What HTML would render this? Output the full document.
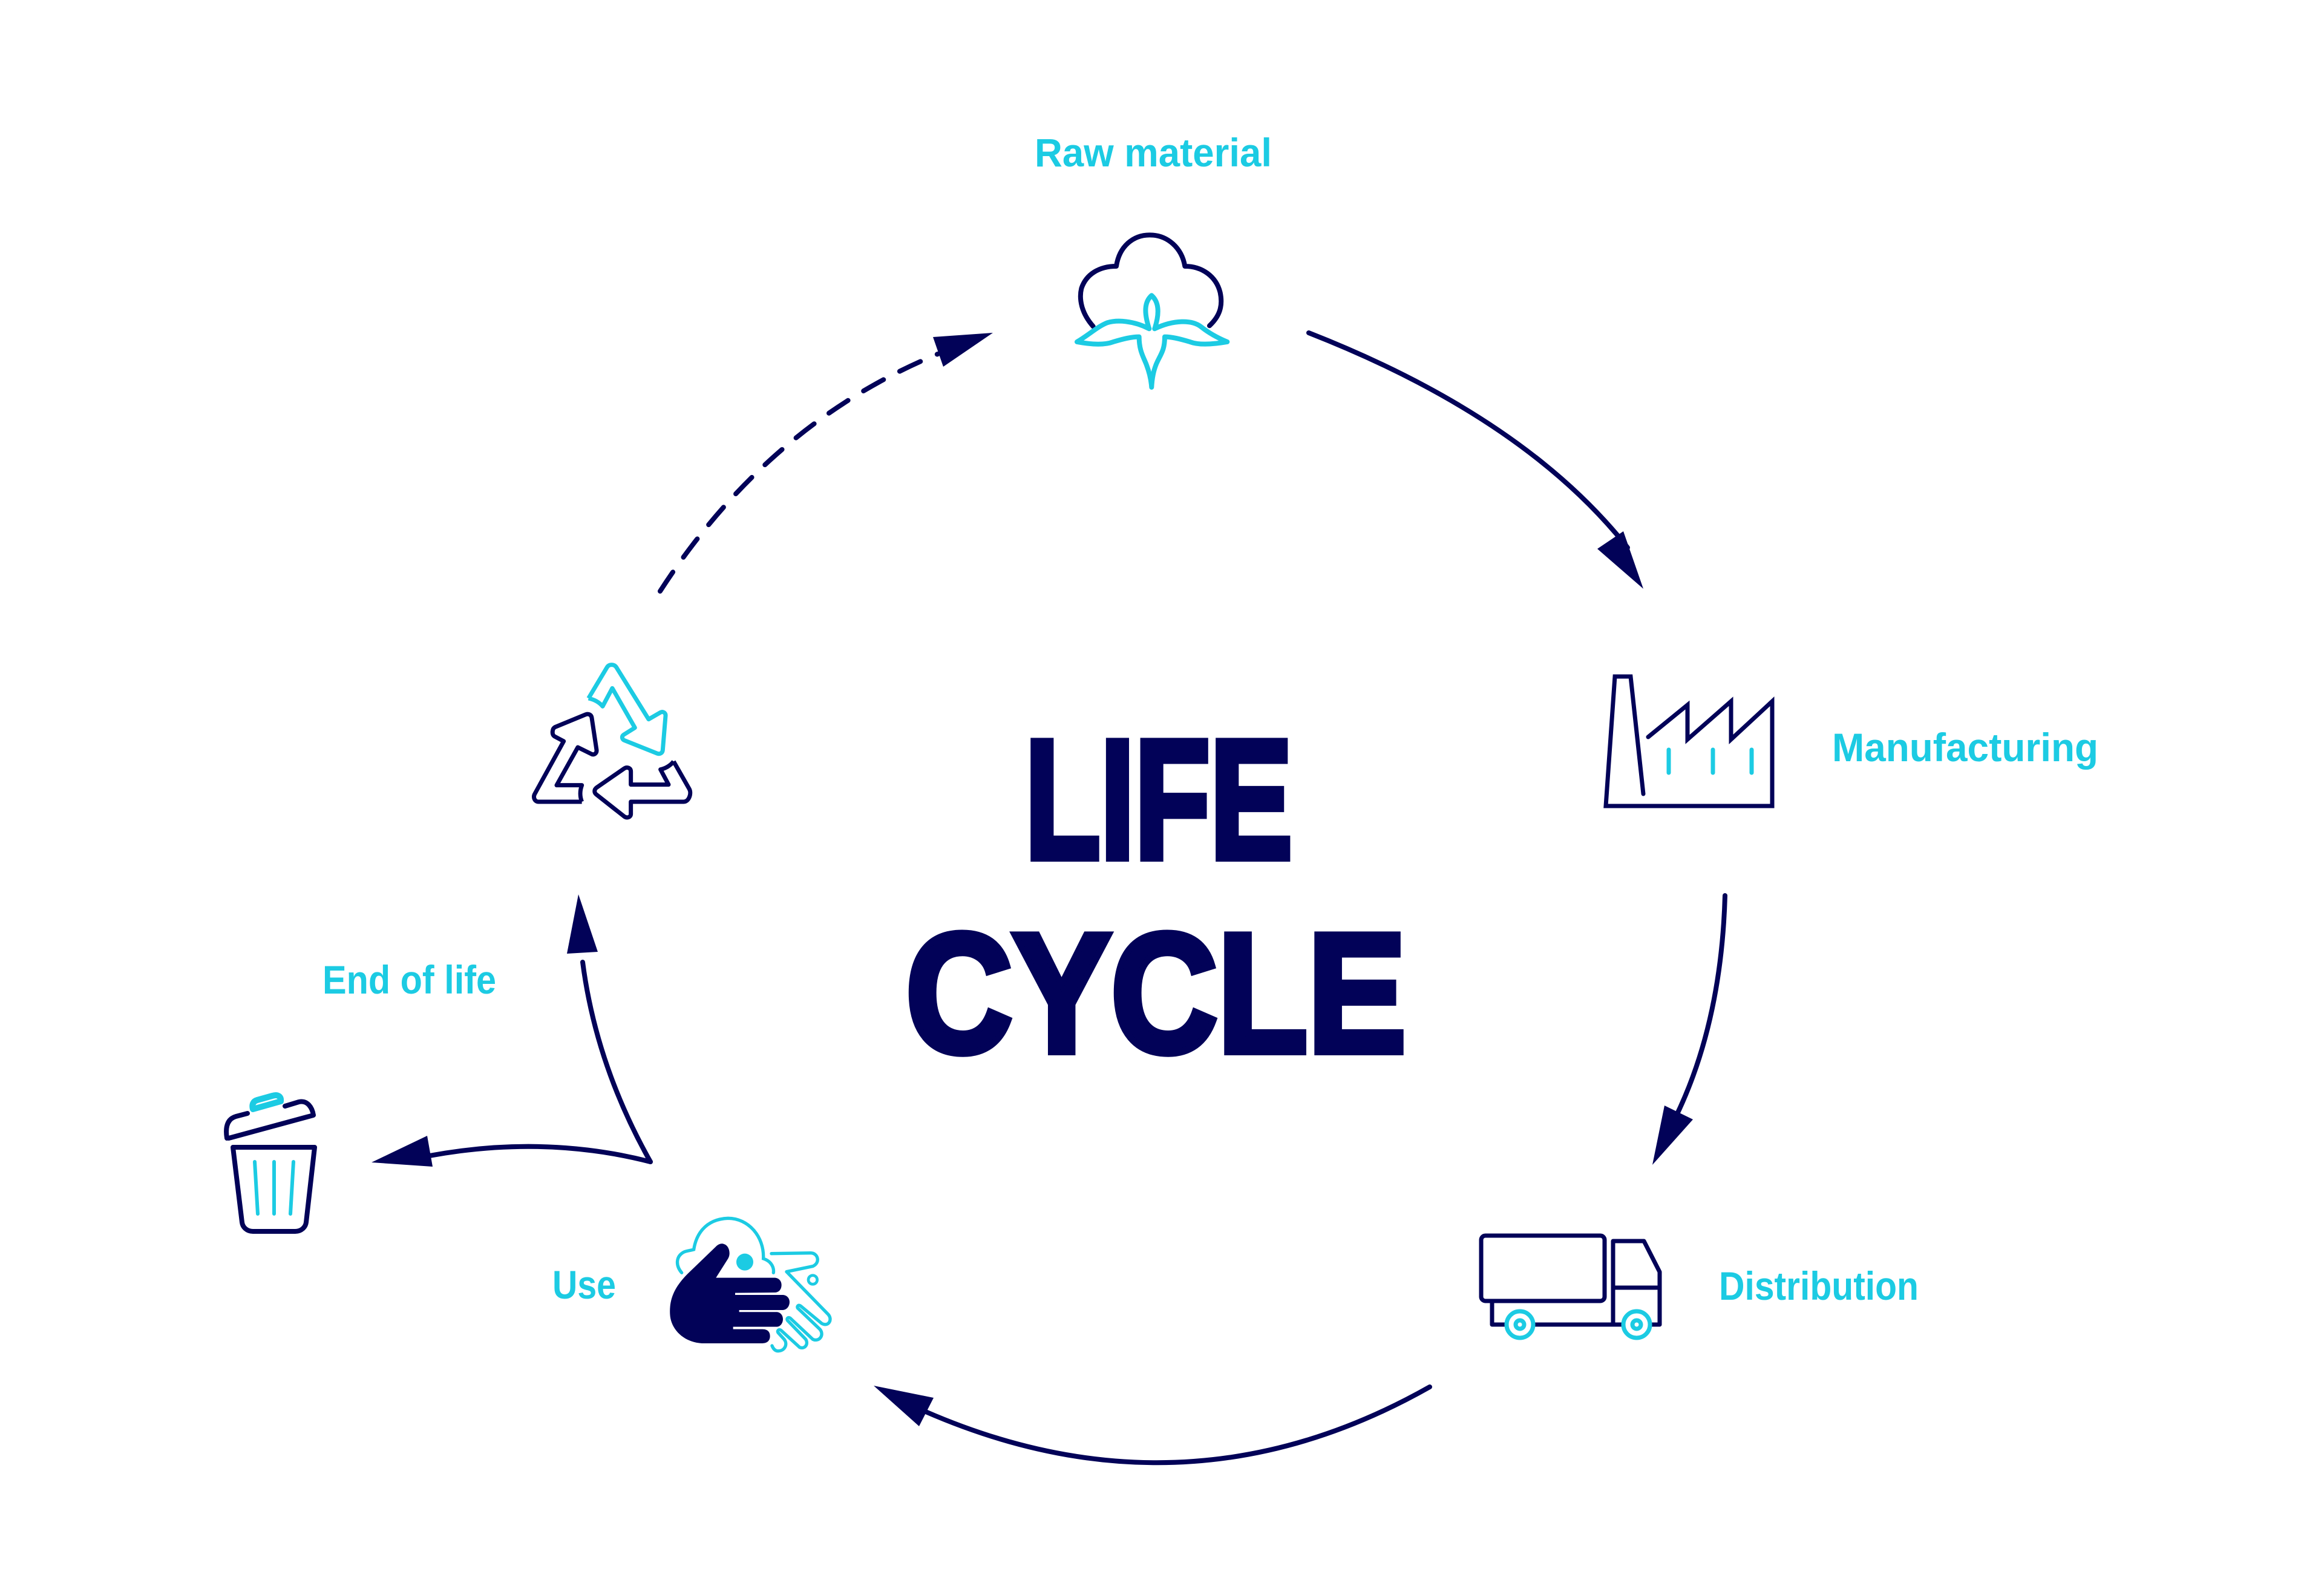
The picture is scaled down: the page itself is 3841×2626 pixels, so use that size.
<!DOCTYPE html>
<html><head><meta charset="utf-8"><style>
html,body{margin:0;padding:0;background:#fff;}
svg{display:block;}
.lbl{font-family:"Liberation Sans",sans-serif;font-weight:bold;font-size:66px;fill:#1ccbe3;}
.ttl{font-family:"Liberation Sans",sans-serif;font-weight:bold;font-size:280px;fill:#020258;stroke:#020258;stroke-width:12px;stroke-linejoin:miter;}
</style></head><body>
<svg width="3841" height="2626" viewBox="0 0 3841 2626" xmlns="http://www.w3.org/2000/svg">
<rect width="3841" height="2626" fill="#fff"/>
<g fill="none" stroke="#020258" stroke-width="8" stroke-linecap="round">
  <path d="M2163,550 Q2520,690 2690,905"/>
  <path d="M2851,1480 Q2845,1690 2770,1845"/>
  <path d="M2363,2292 Q1960,2520 1530,2333"/>
  <path d="M1075,1920 Q985,1760 963,1590"/>
  <path d="M1075,1920 Q900,1875 710,1910"/>
  <path d="M1091,977 Q1270,700 1550,585" stroke-dasharray="38,30"/>
</g>
<g fill="#020258">
  <polygon points="2683,878 2640,907 2716,973"/>
  <polygon points="2751,1827 2798,1850 2731,1925"/>
  <polygon points="1444,2290 1543,2310 1519,2357"/>
  <polygon points="956,1478 937,1576 988,1573"/>
  <polygon points="614,1921 706,1877 715,1928"/>
  <polygon points="1542,557 1641,550 1559,606"/>
</g>

<text class="ttl" x="1694" y="1418" textLength="442" lengthAdjust="spacingAndGlyphs">LIFE</text>
<text class="ttl" x="1497" y="1738" textLength="827" lengthAdjust="spacingAndGlyphs">CYCLE</text>

<text class="lbl" x="1710" y="275" textLength="392" lengthAdjust="spacingAndGlyphs">Raw material</text>
<text class="lbl" x="3028" y="1258" textLength="440" lengthAdjust="spacingAndGlyphs">Manufacturing</text>
<text class="lbl" x="2841" y="2148" textLength="330" lengthAdjust="spacingAndGlyphs">Distribution</text>
<text class="lbl" x="913" y="2146" textLength="105" lengthAdjust="spacingAndGlyphs">Use</text>
<text class="lbl" x="533" y="1642" textLength="287" lengthAdjust="spacingAndGlyphs">End of life</text>

<g transform="translate(1700,200) scale(0.3333)" fill="none" stroke-linecap="round" stroke-linejoin="round">
  <path d="M320,1018 C260,950 250,880 262,830 C285,760 350,720 435,720 C450,620 520,565 600,565 C690,565 760,630 775,720 C860,720 930,770 950,850 C965,920 945,970 897,1015" stroke="#020258" stroke-width="24"/>
  <path d="M598,1030 C520,990 440,985 390,1000 C340,1020 300,1060 240,1095 C320,1110 380,1110 420,1095 C470,1080 510,1070 548,1070 C548,1140 570,1170 585,1210 C600,1250 608,1290 610,1320 C612,1280 620,1230 640,1190 C660,1150 675,1130 675,1070 C710,1070 750,1080 800,1095 C840,1110 900,1110 985,1095 C925,1070 880,1040 855,1020 C810,985 720,985 625,1030 M598,1030 C575,960 570,900 610,865 C650,900 648,960 625,1030" stroke="#1ccbe3" stroke-width="24"/>
</g>

<g fill="none" stroke="#020258" stroke-width="7" stroke-linejoin="miter" stroke-linecap="round">
  <path d="M2716,1312 L2695,1118 L2669,1118 L2654,1332 L2929,1332 L2929,1159 L2861,1222 L2861,1159 L2789,1222 L2789,1165 L2724,1218"/>
</g>
<g stroke="#1ccbe3" stroke-width="7" stroke-linecap="round">
  <line x1="2758" y1="1239" x2="2758" y2="1277"/>
  <line x1="2831" y1="1239" x2="2831" y2="1277"/>
  <line x1="2895" y1="1239" x2="2895" y2="1277"/>
</g>

<g fill="none" stroke="#020258" stroke-width="7" stroke-linejoin="round">
  <rect x="2448" y="2042" width="204" height="108" rx="7"/>
  <path d="M2466,2150 L2466,2189 L2743,2189 L2743,2102 L2717,2051 L2666,2051 L2666,2189 M2666,2128 L2743,2128"/>
</g>
<g fill="#fff" stroke="#1ccbe3" stroke-width="7">
  <circle cx="2512" cy="2189" r="22"/><circle cx="2512" cy="2189" r="7"/>
  <circle cx="2705" cy="2189" r="22"/><circle cx="2705" cy="2189" r="7"/>
</g>

<g fill="none" stroke-linejoin="round" stroke-linecap="round">
  <path d="M378,1881 L518,1843 C516,1830 508,1818 494,1821 L471,1828 M409,1840 L390,1845 C376,1849 372,1862 375,1881" stroke="#020258" stroke-width="8"/>
  <path d="M418,1833 L464,1820 C465,1812 459,1808 450,1811 L425,1818 C418,1820 416,1826 418,1833 Z" stroke="#1ccbe3" stroke-width="10"/>
  <path d="M385,1896 L520,1896 L506,2020 C505,2028 498,2035 488,2035 L418,2035 C408,2035 401,2028 400,2020 Z" stroke="#020258" stroke-width="8"/>
  <path d="M421,1920 L426,2006 M453,1920 L453,2006 M485,1920 L480,2006" stroke="#1ccbe3" stroke-width="6"/>
</g>

<g transform="translate(860,1080) scale(0.3333)" fill="none" stroke-width="21" stroke-linejoin="round">
  <path d="M338,222 L430,68 C440,52 465,52 476,68 L636,326 L695,292 C708,285 722,295 720,310 L706,480 C704,494 692,500 680,496 L515,430 C503,425 502,410 512,403 L568,368 L456,172 L408,262 C390,240 365,228 338,222" stroke="#1ccbe3"/>
  <path d="M305,735 L90,735 C70,735 62,712 72,695 L215,435 L168,410 C155,400 158,372 172,365 L325,302 C340,297 352,305 354,318 L378,478 C380,495 365,505 352,498 L285,465 L180,653 L305,653 C295,680 295,710 305,735" stroke="#020258"/>
  <path d="M760,535 L838,672 C850,694 836,735 810,735 L548,735 L548,795 C548,812 530,818 515,808 L378,700 C365,690 365,675 378,665 L515,570 C530,560 548,568 548,585 L548,650 L735,650 L695,575 C720,570 745,555 760,535" stroke="#020258"/>
</g>

<g transform="translate(1050,1950) scale(0.3333)">
  <path d="M230,460 C200,425 200,380 240,358 C255,350 275,350 290,345 C300,280 340,195 460,190 C560,190 640,280 635,390 C680,405 688,440 685,460" fill="none" stroke="#1ccbe3" stroke-width="16" stroke-linecap="round"/>
  <circle cx="543" cy="407" r="42" fill="#1ccbe3"/>
  <path d="M400,485 L460,390 C475,365 465,325 440,318 C425,312 410,320 400,330 L260,465 C195,530 168,590 172,665 C175,740 240,805 330,810 L630,810 C660,810 668,790 668,775 C668,752 655,740 630,740 L485,740 L485,728 L700,728 C720,728 732,710 732,690 C732,670 718,655 700,655 L515,655 L515,645 L730,645 C752,645 765,625 765,605 C765,585 750,570 730,570 L495,570 L495,560 L690,558 C710,558 725,545 725,520 C725,500 710,485 690,485 Z" fill="#020258"/>
  <path d="M675,365 L870,362 C905,362 920,410 880,428 L750,455 L955,665 C980,690 960,730 925,712 L820,625 C810,617 800,625 805,635 L915,740 C940,770 910,805 880,790 L768,685 C758,678 748,688 755,697 L845,790 C860,815 840,840 815,830 L722,745 C712,738 702,748 708,757 L738,790 C758,815 740,850 705,848 C690,846 682,832 678,822" fill="none" stroke="#1ccbe3" stroke-width="16" stroke-linecap="round" stroke-linejoin="round"/>
  <circle cx="880" cy="495" r="22" fill="none" stroke="#1ccbe3" stroke-width="14"/>
</g>
</svg>
</body></html>
